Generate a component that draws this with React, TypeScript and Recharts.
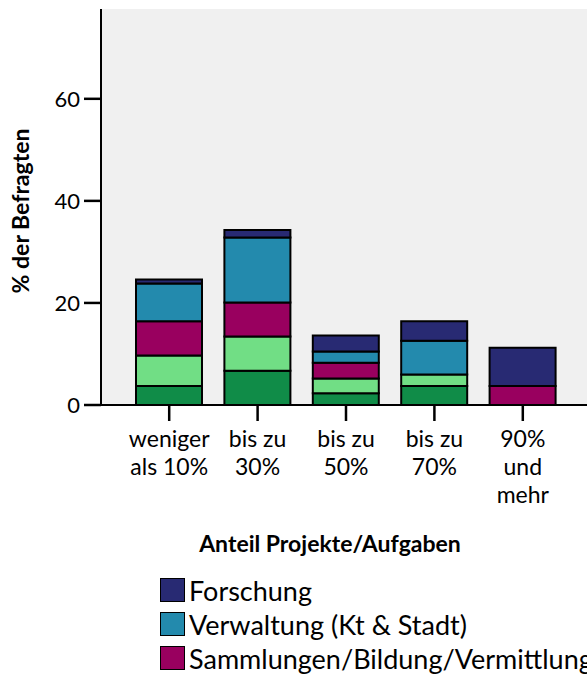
import { BarChart, Bar, XAxis, YAxis, CartesianGrid, Legend } from 'recharts';

const categories = ['weniger\nals 10%', 'bis zu\n30%', 'bis zu\n50%', 'bis zu\n70%', '90%\nund\nmehr'];

// stacked bottom -> top
const denkmalpflege = [3.7, 6.7, 2.3, 3.7, 0];
const archaeologie = [6.0, 6.7, 2.9, 2.3, 0];
const sammlungen = [6.7, 6.7, 3.1, 0, 3.7];
const verwaltung = [7.4, 12.7, 2.2, 6.6, 0];
const forschung = [0.8, 1.5, 3.1, 3.8, 7.5];

const yTicks = [0, 20, 40, 60];

const series = [
  { key: 'denkmal', name: 'Denkmalpflege', color: '#108c48', values: denkmalpflege },
  { key: 'archaeo', name: 'Archäologie', color: '#71de85', values: archaeologie },
  { key: 'samml', name: 'Sammlungen/Bildung/Vermittlung', color: '#99005f', values: sammlungen },
  { key: 'verw', name: 'Verwaltung (Kt & Stadt)', color: '#238aad', values: verwaltung },
  { key: 'forsch', name: 'Forschung', color: '#282a73', values: forschung },
];

const data = categories.map((cat, i) => {
  const row: Record<string, string | number> = { cat };
  series.forEach((s) => {
    row[s.key] = s.values[i];
  });
  return row;
});

const FONT = 'Lato, "Open Sans", sans-serif';

const CategoryTick = (props: any) => {
  const { x, y, payload } = props;
  const lines = String(payload.value).split('\n');
  return (
    <text x={x} y={y} textAnchor="middle" fontSize={23} fill="#000" fontFamily={FONT}>
      {lines.map((l, i) => (
        <tspan key={i} x={x} dy={i === 0 ? 22 : 28}>
          {l}
        </tspan>
      ))}
    </text>
  );
};

// only the top three entries fit in the frame, the rest falls below the picture
const LegendBox = () => (
  <div style={{ fontFamily: FONT, fontSize: 27, color: '#000' }}>
    {[...series].reverse().slice(0, 3).map((s) => (
      <div key={s.key} style={{ display: 'flex', alignItems: 'center', height: 34, whiteSpace: 'nowrap' }}>
        <span
          style={{
            display: 'inline-block',
            width: 25,
            height: 24,
            boxSizing: 'border-box',
            border: '1.5px solid #000',
            background: s.color,
            marginRight: 4,
          }}
        />
        <span>{s.name}</span>
      </div>
    ))}
  </div>
);

export default function App() {
  return (
    <div style={{ position: 'absolute', left: 0, top: 0, width: 587, height: 677, overflow: 'hidden', background: '#fff' }}>
      <BarChart width={591} height={677} data={data} margin={{ top: 9, right: 0, bottom: 0, left: 0 }}>
        <CartesianGrid horizontal={false} vertical={false} fill="#f0f0f0" />
        <XAxis xAxisId="top" orientation="top" dataKey="cat" height={0} tick={false} tickLine={false} axisLine={{ stroke: '#000', strokeWidth: 1 }} />
        <XAxis
          dataKey="cat"
          height={272}
          interval={0}
          padding={{ left: 24, right: 24 }}
          axisLine={{ stroke: '#000', strokeWidth: 2 }}
          tickLine={{ stroke: '#000', strokeWidth: 2.5 }}
          tickSize={16}
          tickMargin={4}
          tick={<CategoryTick />}
          label={() => (
            <text x={330} y={543} textAnchor="middle" dominantBaseline="central" fontSize={23} fontWeight="bold" fontFamily={FONT} fill="#000">
              Anteil Projekte/Aufgaben
            </text>
          )}
        />
        <YAxis
          width={101}
          domain={[0, 77.6]}
          ticks={yTicks}
          allowDataOverflow
          axisLine={{ stroke: '#000', strokeWidth: 2 }}
          tickLine={{ stroke: '#000', strokeWidth: 2.5 }}
          tickSize={17}
          tickMargin={4}
          tick={{ fill: '#000', fontSize: 22, fontFamily: FONT }}
          label={(p: any) => {
            const vb = p.viewBox || { y: 9, height: 396 };
            const cy = vb.y + vb.height / 2 + 4;
            return (
              <text x={20} y={cy} transform={`rotate(-90, 20, ${cy})`} textAnchor="middle" dominantBaseline="central" fontSize={23} fontWeight="bold" fontFamily={FONT} fill="#000">
                % der Befragten
              </text>
            );
          }}
        />
        {series.map((s) => (
          <Bar key={s.key} dataKey={s.key} name={s.name} stackId="a" fill={s.color} stroke="#000" strokeWidth={2} barSize={66} isAnimationActive={false} />
        ))}
        <Legend
          layout="vertical"
          align="center"
          verticalAlign="middle"
          content={() => <LegendBox />}
          wrapperStyle={{ position: 'absolute', top: 573, left: 160, width: 'auto' }}
        />
      </BarChart>
    </div>
  );
}
